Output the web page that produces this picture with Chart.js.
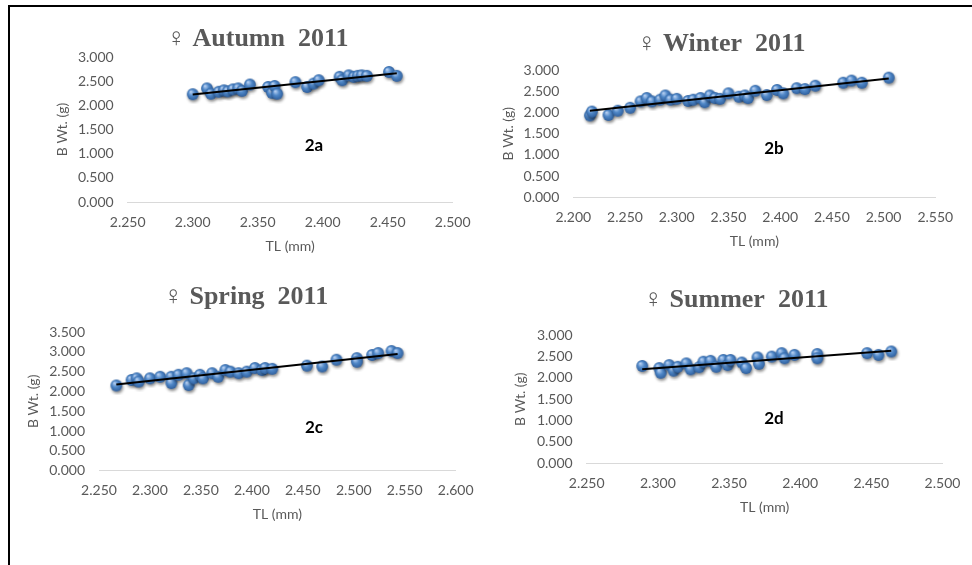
<!DOCTYPE html>
<html>
<head>
<meta charset="utf-8">
<title>Female length–weight relationship, 2011</title>
<script src="https://cdn.jsdelivr.net/npm/chart.js@4.4.1/dist/chart.umd.min.js"></script>
<style>
  html, body { margin: 0; padding: 0; background: #fff; }
  #page { position: relative; width: 972px; height: 565px; overflow: hidden; background: #fff; }
  #frame { position: absolute; left: 8px; top: 5px; right: -4px; bottom: -4px;
           border-left: 2px solid #000; border-top: 2px solid #000; }
  canvas { position: absolute; }
</style>
</head>
<body>
<div id="page">
  <div id="frame"></div>
  <canvas id="c1" width="486" height="282" style="left:0;top:0"></canvas>
  <canvas id="c2" width="486" height="282" style="left:486px;top:0"></canvas>
  <canvas id="c3" width="486" height="283" style="left:0;top:282px"></canvas>
  <canvas id="c4" width="486" height="283" style="left:486px;top:282px"></canvas>
</div>
<script>
// Total length (mm) and body weight (g) of females, by season, 2011
const autumnTL = [2.300, 2.311, 2.314, 2.320, 2.324, 2.327, 2.331, 2.335, 2.338, 2.344, 2.358, 2.361, 2.363, 2.365,
                  2.379, 2.388, 2.393, 2.397, 2.413, 2.415, 2.420, 2.424, 2.427, 2.430, 2.434, 2.451, 2.457];
const autumnBW = [2.23, 2.35, 2.24, 2.28, 2.31, 2.29, 2.33, 2.35, 2.30, 2.43, 2.38, 2.26, 2.40, 2.24,
                  2.48, 2.38, 2.45, 2.52, 2.59, 2.52, 2.62, 2.59, 2.61, 2.62, 2.61, 2.69, 2.61];

const winterTL = [2.216, 2.218, 2.234, 2.243, 2.255, 2.265, 2.271, 2.276, 2.284, 2.289, 2.294, 2.300, 2.311, 2.316,
                  2.323, 2.327, 2.332, 2.337, 2.342, 2.350, 2.360, 2.366, 2.369, 2.376, 2.387, 2.397, 2.403, 2.416,
                  2.424, 2.434, 2.461, 2.469, 2.479, 2.505];
const winterBW = [1.93, 2.02, 1.94, 2.04, 2.11, 2.26, 2.34, 2.26, 2.30, 2.40, 2.30, 2.32, 2.27, 2.30,
                  2.34, 2.24, 2.40, 2.34, 2.32, 2.45, 2.37, 2.40, 2.34, 2.51, 2.41, 2.53, 2.45, 2.57,
                  2.55, 2.63, 2.70, 2.75, 2.70, 2.82];

const springTL = [2.267, 2.282, 2.287, 2.289, 2.300, 2.310, 2.321, 2.321, 2.328, 2.336, 2.338, 2.343, 2.349, 2.352,
                  2.361, 2.367, 2.374, 2.379, 2.387, 2.395, 2.403, 2.410, 2.413, 2.420, 2.454, 2.469, 2.483, 2.503,
                  2.503, 2.518, 2.524, 2.537, 2.543];
const springBW = [2.15, 2.29, 2.33, 2.25, 2.33, 2.37, 2.37, 2.21, 2.42, 2.46, 2.16, 2.33, 2.42, 2.33,
                  2.46, 2.37, 2.54, 2.50, 2.46, 2.50, 2.59, 2.54, 2.59, 2.57, 2.65, 2.63, 2.80, 2.84,
                  2.75, 2.92, 2.97, 3.02, 2.97];

const summerTL = [2.289, 2.301, 2.302, 2.308, 2.311, 2.314, 2.320, 2.323, 2.329, 2.332, 2.337, 2.341, 2.346, 2.349,
                  2.351, 2.359, 2.362, 2.370, 2.371, 2.380, 2.387, 2.389, 2.396, 2.412, 2.412, 2.447, 2.455, 2.464];
const summerBW = [2.28, 2.23, 2.12, 2.30, 2.17, 2.26, 2.34, 2.20, 2.25, 2.38, 2.40, 2.26, 2.42, 2.30,
                  2.42, 2.36, 2.23, 2.48, 2.33, 2.50, 2.58, 2.46, 2.54, 2.56, 2.46, 2.58, 2.54, 2.62];

// Axis ranges [min, max, step]
const autumnXAxis = [2.25, 2.50, 0.05];
const winterXAxis = [2.20, 2.55, 0.05];
const springXAxis = [2.25, 2.60, 0.05];
const summerXAxis = [2.25, 2.50, 0.05];
const autumnYAxis = [0, 3.0, 0.5];
const winterYAxis = [0, 3.0, 0.5];
const springYAxis = [0, 3.5, 0.5];
const summerYAxis = [0, 3.0, 0.5];

const panelTitles = ['\u2640 Autumn  2011', '\u2640 Winter  2011', '\u2640 Spring  2011', '\u2640 Summer  2011'];
const panelTags = ['2a', '2b', '2c', '2d'];
const xTitle = 'TL (mm)';
const yTitle = 'B Wt. (g)';

// Shaded bubble used as the marker
function makeBubble() {
  const c = document.createElement('canvas');
  c.width = 20; c.height = 20;
  const g = c.getContext('2d');
  g.shadowColor = 'rgba(0,0,0,0.45)';
  g.shadowBlur = 3;
  g.shadowOffsetX = 1;
  g.shadowOffsetY = 2;
  const grd = g.createRadialGradient(8, 7.5, 0.5, 10, 10, 6.3);
  grd.addColorStop(0, '#b3cdf0');
  grd.addColorStop(0.45, '#5088c8');
  grd.addColorStop(1, '#2c5c9a');
  g.fillStyle = grd;
  g.beginPath();
  g.arc(10, 10, 5.9, 0, Math.PI * 2);
  g.fill();
  return c;
}
const bubble = makeBubble();

// Least-squares linear fit, drawn across the observed length range
function trend(xs, ys) {
  const n = xs.length;
  let sx = 0, sy = 0, sxx = 0, sxy = 0;
  for (let i = 0; i < n; i++) { sx += xs[i]; sy += ys[i]; sxx += xs[i] * xs[i]; sxy += xs[i] * ys[i]; }
  const b = (n * sxy - sx * sy) / (n * sxx - sx * sx);
  const a = (sy - b * sx) / n;
  const x0 = Math.min(...xs), x1 = Math.max(...xs);
  return [{x: x0, y: a + b * x0}, {x: x1, y: a + b * x1}];
}

// Draws the panel heading and the panel tag
const panelText = {
  id: 'panelText',
  afterDraw(chart, args, opts) {
    const ctx = chart.ctx;
    ctx.save();
    ctx.textAlign = 'center';
    ctx.textBaseline = 'middle';
    ctx.fillStyle = '#595959';
    ctx.font = 'bold 26px "Liberation Serif", "Times New Roman", serif';
    ctx.fillText(opts.title, opts.titleX, opts.titleY);
    ctx.fillStyle = '#000';
    ctx.font = 'bold 17px Lato, "Liberation Sans", sans-serif';
    ctx.fillText(opts.tag, opts.tagX, opts.tagY);
    ctx.restore();
  }
};

const tickFont = {family: 'Lato, "Liberation Sans", sans-serif', size: 14};
const titleFont = {family: 'Lato, "Liberation Sans", sans-serif', size: 14};
const grey = '#595959';

function panel(id, tl, bw, xAxis, yAxis, title, tag, geo) {
  new Chart(document.getElementById(id), {
    type: 'scatter',
    data: {
      datasets: [
        {
          type: 'line',
          data: trend(tl, bw),
          borderColor: '#000',
          borderWidth: 2,
          pointRadius: 0,
          fill: false,
          order: 0
        },
        {
          data: tl.map((v, i) => ({x: v, y: bw[i]})),
          pointStyle: bubble,
          pointRadius: 6,
          order: 1
        }
      ]
    },
    options: {
      responsive: false,
      animation: false,
      events: [],
      layout: {padding: {left: 0, top: geo.top, right: geo.right, bottom: geo.bottom}},
      plugins: {
        legend: {display: false},
        tooltip: {enabled: false},
        panelText: {title: title, tag: tag, titleX: geo.titleX, titleY: geo.titleY, tagX: geo.tagX, tagY: geo.tagY}
      },
      scales: {
        x: {
          type: 'linear',
          min: xAxis[0], max: xAxis[1],
          grid: {display: false, drawTicks: false},
          border: {display: true, color: '#d9d9d9', width: 1},
          ticks: {stepSize: xAxis[2], color: grey, font: tickFont, padding: 11.6, maxRotation: 0,
                  callback: v => v.toFixed(3)},
          title: {display: true, text: xTitle, color: grey, font: titleFont, padding: {top: 0, bottom: 7.6}},
          afterFit: s => { s.height = 60; }
        },
        y: {
          type: 'linear',
          min: yAxis[0], max: yAxis[1],
          grid: {display: false, drawTicks: false},
          border: {display: false},
          ticks: {stepSize: yAxis[2], color: grey, font: tickFont, padding: 14,
                  callback: v => v.toFixed(3)},
          title: {display: true, text: yTitle, color: grey, font: titleFont, padding: {top: geo.yTitlePad, bottom: 0}},
          afterFit: s => { s.width = geo.left; }
        }
      }
    },
    plugins: [panelText]
  });
}

panel('c1', autumnTL, autumnBW, autumnXAxis, autumnYAxis, panelTitles[0], panelTags[0],
  {left: 127.7, top: 57, right: 33.3, bottom: 20, yTitlePad: 53.6,
   titleX: 257.5, titleY: 39, tagX: 314, tagY: 146});
panel('c2', winterTL, winterBW, winterXAxis, winterYAxis, panelTitles[1], panelTags[1],
  {left: 87.3, top: 70, right: 36.7, bottom: 24.7, yTitlePad: 13.6,
   titleX: 235.3, titleY: 44, tagX: 288, tagY: 149});
panel('c3', springTL, springBW, springXAxis, springYAxis, panelTitles[2], panelTags[2],
  {left: 99, top: 50, right: 30.3, bottom: 34.3, yTitlePad: 24.6,
   titleX: 245.8, titleY: 15, tagX: 314, tagY: 146});
panel('c4', summerTL, summerBW, summerXAxis, summerYAxis, panelTitles[3], panelTags[3],
  {left: 100.7, top: 53.3, right: 23.3, bottom: 42, yTitlePad: 25.6,
   titleX: 250, titleY: 18, tagX: 288, tagY: 137});
</script>
</body>
</html>
